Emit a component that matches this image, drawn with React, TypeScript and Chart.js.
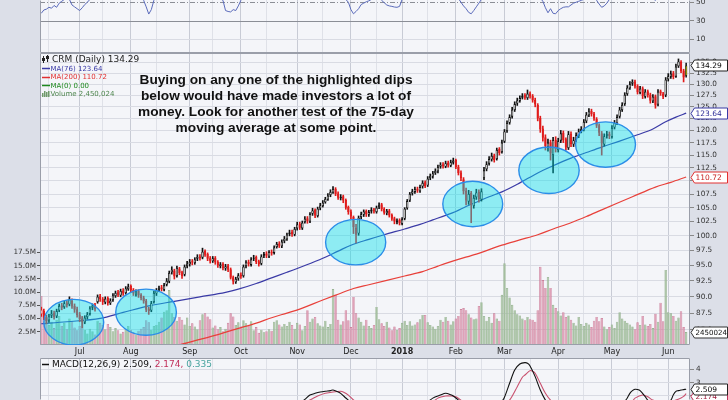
import React, { useEffect, useRef } from 'react';
import { Chart, registerables } from 'chart.js';

Chart.register(...registerables);

// ---------------- data ----------------
const monthIdx = [15, 35, 58, 78, 100, 121, 141, 162, 181, 202, 223, 245];
const monthLabels = ['Jul', 'Aug', 'Sep', 'Oct', 'Nov', 'Dec', '2018', 'Feb', 'Mar', 'Apr', 'May', 'Jun'];
const midMonthIdx = [3, 24, 45, 67, 88, 110, 131, 151, 172, 191, 212, 233];

const priorClose = 88.6;

const opens = [
  87.3,87.8,86.9,86.4,87.1,87.5,87.0,87.9,88.7,88.4,
  89.1,88.8,89.4,88.6,88.1,87.3,86.7,86.1,86.9,87.4,
  88.3,88.7,89.2,90.1,89.7,89.1,89.8,89.0,89.5,90.1,
  90.7,90.2,91.0,90.6,91.2,91.7,91.1,90.4,90.9,90.3,
  89.9,89.4,88.2,87.9,89.2,90.5,91.1,91.5,91.1,91.9,
  92.4,93.9,94.2,93.3,94.5,93.9,93.5,94.9,95.2,95.7,
  95.4,96.1,96.5,96.3,97.4,96.9,96.2,95.7,96.3,95.6,
  94.9,95.3,94.5,95.0,94.4,93.1,92.3,92.9,93.5,93.3,
  94.9,95.6,95.1,96.1,96.4,95.7,95.3,96.6,97.0,96.5,
  97.3,97.1,98.1,98.7,98.2,99.1,99.4,100.3,100.7,100.2,
  101.3,102.1,101.3,102.4,103.1,102.5,103.9,104.6,103.5,104.9,
  105.3,106.0,106.5,107.3,107.8,108.5,107.6,106.7,107.1,106.4,
  105.1,104.3,103.3,101.4,100.4,103.3,103.7,104.4,103.7,104.3,
  104.7,104.2,105.1,105.6,104.8,104.0,104.5,103.7,103.1,102.4,
  102.8,102.1,103.0,104.9,106.3,107.6,107.9,108.5,108.0,108.9,
  109.7,109.1,110.5,110.8,111.5,111.8,112.7,113.2,112.7,113.5,
  112.9,113.5,114.0,112.7,111.6,110.3,108.1,106.1,107.7,105.3,
  106.9,107.9,106.5,110.5,112.2,113.3,114.1,114.9,114.2,116.2,
  115.6,117.7,119.9,121.6,122.9,124.3,125.7,126.3,127.0,127.6,
  126.9,128.0,127.4,126.5,125.4,122.6,120.4,118.6,116.6,117.6,
  115.0,118.1,116.0,117.9,119.5,118.2,116.4,119.3,117.1,118.1,
  118.9,119.9,120.2,121.9,123.2,124.1,123.5,122.4,121.1,119.4,
  117.1,118.9,119.3,118.7,120.6,121.5,122.9,124.3,125.6,127.8,
  129.1,130.1,130.6,129.6,128.1,129.1,127.2,128.4,127.7,126.2,
  127.3,125.5,128.4,127.9,127.5,131.1,131.7,132.5,131.7,134.1,
  135.1,133.1,131.9,
];

const highs = [
  88.4,88.1,87.2,87.3,87.9,87.8,88.1,88.9,89.0,89.3,
  89.4,90.0,89.7,88.9,88.4,87.6,87.0,87.1,87.6,88.5,
  88.9,89.0,90.3,90.4,89.9,90.0,90.0,89.7,90.5,90.9,
  91.0,91.2,91.3,91.6,92.0,91.9,91.3,91.1,91.1,90.5,
  90.1,89.6,88.4,89.3,90.9,91.3,91.7,91.8,92.1,92.9,
  94.1,94.8,94.4,94.9,94.7,94.1,95.1,95.7,96.0,96.0,
  96.3,96.8,96.8,97.9,97.6,97.1,96.5,96.5,96.5,95.8,
  95.5,95.5,95.2,95.2,94.6,93.3,93.1,93.7,93.8,95.1,
  95.8,95.9,96.3,96.7,96.6,95.9,96.8,97.2,97.3,97.5,
  97.6,98.3,98.9,99.0,99.3,99.9,100.5,101.0,101.0,101.5,
  102.4,102.4,102.6,103.4,103.4,104.1,104.9,104.8,105.1,105.8,
  106.3,106.9,107.6,108.3,108.9,108.7,107.9,107.4,107.3,106.6,
  105.3,104.6,103.5,102.0,103.5,104.2,104.6,104.6,104.5,105.0,
  104.9,105.3,105.9,105.8,105.0,104.7,104.7,103.9,103.3,103.0,
  103.0,103.2,105.0,106.5,107.8,108.4,108.8,108.8,109.2,110.0,
  110.0,110.8,111.3,111.8,112.3,113.0,113.5,113.5,113.8,113.8,
  114.0,114.4,114.2,113.0,111.9,110.6,108.6,108.2,108.0,107.3,
  108.4,108.3,108.5,112.6,113.7,114.7,115.4,115.2,116.4,116.5,
  118.0,120.2,122.0,123.3,124.9,126.1,126.9,127.4,127.9,127.9,
  128.7,128.3,127.7,126.9,125.7,123.0,120.9,119.1,118.2,118.0,
  118.6,118.7,118.4,120.0,119.9,118.5,119.8,119.7,118.6,119.5,
  120.3,120.8,122.3,123.8,124.6,124.5,123.8,122.7,121.4,119.8,
  119.3,119.8,119.7,121.0,122.1,123.3,124.9,125.9,128.1,129.7,
  130.6,131.0,130.9,129.9,129.5,129.4,128.8,128.7,128.0,127.7,
  127.6,128.8,128.7,128.2,131.5,132.4,133.0,132.9,134.6,135.8,
  135.4,133.4,134.8,
];

const lows = [
  87.0,86.5,85.9,86.1,86.8,86.6,86.8,87.7,88.0,88.2,
  88.4,88.6,88.2,87.6,86.9,86.2,85.3,85.9,86.6,87.2,
  88.0,87.8,89.0,89.3,88.8,88.9,88.7,88.8,89.3,89.9,
  90.0,90.0,90.2,90.4,91.0,90.7,90.2,90.1,89.9,89.5,
  89.0,87.7,87.3,87.7,89.0,90.2,90.8,90.9,90.9,91.7,
  92.2,93.6,92.8,93.1,93.5,92.9,93.3,94.6,94.9,95.1,
  95.2,95.8,95.9,96.1,96.5,95.8,95.4,95.5,95.2,94.7,
  94.6,94.3,94.2,94.0,92.8,92.0,92.1,92.6,92.9,93.1,
  94.6,94.9,94.9,95.8,95.3,94.9,95.1,96.3,96.3,96.3,
  96.7,96.9,97.9,98.0,98.0,98.8,99.2,100.0,99.9,100.0,
  101.0,101.1,101.1,102.2,102.2,102.3,103.6,103.2,103.3,104.6,
  105.1,105.8,106.3,107.0,107.6,107.2,106.5,106.4,105.9,104.7,
  103.8,103.0,100.4,98.8,100.1,103.0,103.4,103.4,103.4,104.0,
  104.0,104.0,104.8,104.4,103.8,103.7,103.3,102.7,102.1,102.1,
  101.9,101.9,102.8,104.7,106.1,107.3,107.6,107.8,107.8,108.6,
  108.7,108.9,110.2,110.5,111.2,111.5,112.4,112.4,112.5,112.6,
  112.7,113.2,112.3,111.1,110.0,107.5,105.5,105.6,102.3,104.9,
  106.5,106.0,106.2,110.2,111.9,113.0,113.8,113.6,114.0,115.0,
  115.4,117.5,119.6,121.3,122.6,124.0,125.3,126.0,126.7,126.6,
  126.6,126.9,126.0,125.0,122.0,119.6,117.8,116.0,115.8,114.0,
  111.5,115.6,115.6,117.5,117.5,116.0,116.1,116.7,116.7,117.7,
  118.5,119.5,119.9,121.6,122.9,123.0,122.1,120.6,118.9,115.0,
  116.8,118.4,118.3,118.4,120.3,121.2,122.6,124.0,125.3,127.5,
  128.8,129.7,129.1,127.8,127.8,126.8,126.9,127.1,125.8,125.9,
  124.7,125.2,127.5,126.8,127.2,130.7,131.3,131.2,131.5,133.8,
  132.6,130.5,131.6,
];

const closes = [
  88.0,86.8,86.3,87.0,87.4,86.9,87.8,88.6,88.3,89.0,
  88.7,89.6,88.5,88.0,87.2,86.6,86.2,86.8,87.3,88.2,
  88.6,88.1,90.0,89.6,89.2,89.7,89.0,89.4,90.2,90.6,
  90.3,90.9,90.5,91.3,91.6,91.0,90.5,90.8,90.2,89.8,
  89.3,88.0,87.8,89.0,90.6,91.0,91.4,91.2,91.8,92.5,
  93.8,94.3,93.2,94.6,93.8,93.3,94.8,95.3,95.6,95.5,
  96.0,96.4,96.2,97.3,96.8,96.1,95.8,96.2,95.5,95.0,
  95.2,94.6,94.9,94.3,93.0,92.4,92.8,93.4,93.2,94.8,
  95.5,95.2,96.0,96.3,95.6,95.2,96.5,96.9,96.6,97.2,
  97.0,98.0,98.6,98.3,99.0,99.5,100.2,100.6,100.3,101.2,
  102.0,101.4,102.3,103.0,102.6,103.8,104.5,103.6,104.8,105.4,
  105.9,106.6,107.2,107.9,108.4,107.5,106.8,107.0,106.3,105.0,
  104.2,103.4,101.5,100.2,103.2,103.8,104.3,103.8,104.2,104.6,
  104.3,105.0,105.5,104.7,104.1,104.4,103.6,103.0,102.5,102.7,
  102.2,102.9,104.8,106.2,107.5,108.0,108.4,108.1,108.8,109.6,
  109.0,110.4,110.9,111.4,111.9,112.6,113.1,112.8,113.4,113.0,
  113.6,113.9,112.6,111.5,110.5,108.0,106.3,107.5,105.5,106.8,
  107.8,106.6,108.0,112.0,113.2,114.2,114.8,114.0,116.0,115.4,
  117.5,119.8,121.5,122.8,124.4,125.6,126.4,126.9,127.4,127.0,
  127.9,127.3,126.4,125.5,122.5,120.2,118.5,116.8,117.5,115.3,
  118.0,116.2,117.8,119.4,118.0,116.5,119.2,117.2,118.0,119.0,
  119.8,120.3,121.8,123.3,124.0,123.4,122.5,121.0,119.5,117.3,
  118.8,119.2,118.8,120.5,121.6,122.8,124.4,125.4,127.6,129.2,
  130.0,130.5,129.5,128.2,129.0,127.3,128.3,127.6,126.3,127.2,
  125.3,128.3,127.9,127.2,131.0,131.8,132.4,131.6,134.0,135.2,
  133.0,131.5,134.29,
];

// volume in millions of shares
const volumes = [
  9.3,6.0,5.2,3.8,4.4,3.2,4.8,5.5,3.6,4.2,
  3.0,5.0,4.5,3.3,2.8,3.6,5.4,2.9,2.2,3.1,
  2.6,2.0,4.6,4.2,3.8,3.0,4.0,3.4,2.6,3.2,
  2.8,2.2,2.5,3.0,3.6,2.9,2.4,2.0,2.7,3.1,
  3.4,4.7,4.3,2.9,3.6,3.8,4.4,5.2,6.3,6.6,
  10.4,6.0,5.3,4.6,5.3,4.8,3.9,5.2,3.6,4.1,
  3.5,3.0,4.7,5.8,6.0,5.4,4.9,3.3,3.7,3.0,
  3.4,2.6,3.1,4.2,6.0,5.4,3.8,4.3,3.5,4.7,
  4.1,3.6,4.5,2.8,3.4,2.3,2.9,2.4,2.6,3.0,
  2.7,4.4,4.7,3.9,3.5,4.0,3.6,4.4,3.8,3.1,
  4.2,3.9,2.8,3.6,6.6,4.4,5.0,5.3,4.1,3.7,
  3.5,4.6,3.4,4.0,10.6,9.5,4.8,3.9,4.5,6.6,
  4.7,3.4,9.1,6.0,5.2,4.4,3.7,4.8,3.6,3.2,
  3.8,7.2,4.9,4.1,3.6,4.4,3.3,2.8,3.5,2.9,
  3.2,4.2,4.6,3.8,4.5,3.7,3.9,4.3,4.9,5.7,
  5.7,4.3,3.8,3.5,3.1,3.6,4.8,4.4,5.3,4.6,
  3.9,4.5,5.0,5.5,6.8,7.0,6.6,5.8,5.2,4.9,
  5.0,7.4,8.1,5.5,4.6,5.3,4.2,6.0,5.0,4.6,
  9.5,15.5,10.8,9.0,7.6,6.6,5.8,5.6,5.0,4.7,
  5.3,4.9,4.8,4.4,6.6,14.8,12.3,10.8,12.9,10.8,
  7.6,7.0,6.4,5.6,6.2,5.3,5.6,4.8,4.2,3.7,
  5.3,4.0,3.6,4.2,3.9,3.4,4.6,5.3,4.5,5.1,
  3.5,3.0,3.4,3.9,3.2,4.4,6.2,5.0,4.6,4.2,
  3.9,3.5,3.0,4.3,3.8,5.5,3.9,3.6,4.0,3.2,
  5.9,4.4,8.0,4.5,14.2,6.2,6.0,5.5,4.6,5.2,
  6.4,3.4,2.450024,
];

// [bar index, value]
const ma76 = [
  [0,85.9],[10,86.2],[23,86.7],[32,87.6],[42,88.6],[52,89.3],[62,90.0],[72,90.7],[77,91.2],[84,92.1],
  [90,93.0],[96,93.9],[103,95.0],[110,96.2],[116,97.4],[121,98.4],[128,99.4],[134,100.2],[142,101.2],
  [148,102.0],[153,102.8],[158,103.6],[162,104.3],[166,105.2],[170,106.0],[175,107.0],[180,107.9],
  [187,109.6],[194,111.5],[200,112.9],[207,114.4],[213,115.5],[219,116.6],[226,117.8],[233,119.1],
  [239,120.3],[244,121.8],[248,122.8],[252,123.64],
];
const ma200 = [
  [45,81.7],[53,82.7],[62,83.6],[70,84.4],[75,85.0],[84,86.0],[90,86.8],[96,87.5],[101,88.1],[110,89.5],
  [116,90.4],[122,91.3],[128,91.9],[135,92.6],[142,93.3],[149,94.0],[155,94.9],[162,95.9],[170,96.9],
  [180,98.4],[187,99.3],[194,100.2],[200,101.2],[207,102.3],[213,103.4],[219,104.6],[225,105.8],
  [231,107.0],[240,108.8],[246,109.7],[252,110.72],
];
const rsi = [
  [0,38],[1,41.6],[2,42.5],[3,44.5],[4,43.5],[5,46.5],[6,44.5],[7,49],[8,51],[9,53],[10,55],[11,53],
  [12,47],[13,45],[14,43],[15,41],[16,44],[17,47.5],[18,50],[19,53],[20,56],[22,62],[25,60],[28,63],
  [31,64],[34,66],[37,59],[39,55],[40,52],[41,45],[42,37.2],[43,42],[44,52],[45,56],[48,60],[50,66],
  [53,64],[56,66],[60,68],[63,70],[66,60],[69,56],[71,52],[72,41],[73,40],[74,39.5],[75,42],[76,41],
  [77,46],[78,52],[80,58],[83,60],[86,62],[90,64],[95,70],[100,72],[105,70],[110,72],[114,74],[116,62],
  [118,56],[119,53],[120,50],[121,42],[122,37.5],[123,40],[124,43],[125,47.5],[126,49],[127,50.5],
  [128,51.5],[129,53],[131,56],[132,55],[133,52],[134,49.5],[135,47],[136,46],[137,45.5],[138,44.8],
  [139,44.5],[140,45.5],[141,53],[143,62],[146,68],[150,66],[155,70],[160,71],[162,58],[163,54],
  [164,50],[165,46],[166,43],[167,39],[168,37.5],[169,41],[170,45],[171,49],[172,53],[175,64],[180,68],
  [185,76],[190,78],[192,68],[194,58],[196,51],[197,44],[198,38.6],[199,43],[200,38],[201,37.5],
  [202,41],[203,43],[204,44.5],[205,45],[206,45],[207,47],[208,49],[209,50],[210,51],[211,52],[212,53],
  [214,58],[216,55],[217,52],[218,48],[219,44.5],[220,46],[221,49],[222,53],[225,60],[230,68],[235,62],
  [240,52],[242,60],[245,66],[248,70],[252,68],
];
const macdLine = [
  [95,1.3],[100,1.45],[102,1.6],[103,1.75],[105,2.07],[107,2.2],[109,2.3],[111,2.36],[113,2.4],[114,2.45],
  [116,2.3],[117,2.2],[119,1.85],[121,1.5],[123,1.0],[126,0.7],[130,0.6],[135,0.5],[140,0.3],[145,0.8],
  [150,1.4],[153,1.84],[156,2.07],[158,2.2],[160,2.1],[161,2.0],[163,1.69],[166,1.0],[170,0.4],[174,0.6],
  [178,1.2],[180,1.6],[181,1.9],[183,2.95],[185,3.95],[187,4.4],[189,4.5],[190,4.45],[191,4.25],[193,3.45],
  [195,2.45],[197,1.69],[200,0.9],[205,0.3],[210,0.2],[215,0.6],[220,0.5],[225,1.0],[228,1.6],[229,1.85],
  [230,2.2],[231,2.4],[232,2.5],[233,2.48],[234,2.4],[236,1.95],[237,1.69],[240,1.3],[243,1.4],[246,1.69],
  [247,2.1],[248,2.35],[249,2.4],[250,2.45],[251,2.48],[252,2.509],
];
const macdSignal = [
  [100,1.1],[103,1.45],[104,1.6],[106,1.8],[108,2.0],[111,2.2],[114,2.3],[117,2.35],[118,2.3],[120,2.07],
  [122,1.7],[124,1.5],[127,1.1],[132,0.8],[138,0.5],[144,0.6],[150,1.1],[155,1.84],[158,2.0],[160,2.0],
  [162,1.94],[164,1.69],[168,1.2],[174,0.7],[180,1.2],[183,1.69],[186,2.7],[188,3.4],[189,3.57],[191,3.9],
  [192,3.85],[193,3.7],[195,2.95],[197,2.2],[199,1.69],[203,1.0],[210,0.5],[220,0.6],[228,1.2],[231,1.6],
  [232,1.84],[235,2.07],[237,1.94],[239,1.69],[243,1.5],[245,1.55],[248,1.69],[250,1.85],[251,1.97],[252,2.174],
];

const priceTicks = [85,87.5,90,92.5,95,97.5,100,102.5,105,107.5,110,112.5,115,117.5,120,122.5,125,127.5,130,132.5,135];
const volumeTicks = [2.5,5,7.5,10,12.5,15,17.5];
const rsiTicks = [10,30,50];
const macdTicks = [2,3,4];

// highlighted dips: bar index span and price span
const dipLeft = [1.0, 29.1, 111.1, 156.9, 186.6, 208.8];
const dipRight = [24.4, 52.8, 134.6, 180.3, 210.2, 232.2];
const dipTop = [89.6, 91.2, 102.9, 109.9, 116.6, 121.8];
const dipBottom = [82.8, 84.2, 95.1, 101.6, 107.6, 112.6];

const noteLines = [
  'Buying on any one of the highlighted dips',
  'below would have made investors a lot of',
  'money. Look for another test of the 75-day',
  'moving average at some point.',
];

// ---------------- style ----------------
const FONT = '"DejaVu Sans", Verdana, sans-serif';
const OUTER_BG = '#dcdfe8';
const PANEL_BG = '#f4f5f9';
const GRID = '#d9dbe3';
const BORDER = '#9a9ea9';

const gridIdx = [...midMonthIdx, ...monthIdx].sort((a, b) => a - b);
const labelFor = (v: number) => {
  const k = monthIdx.indexOf(Math.round(v));
  return k >= 0 ? monthLabels[k] : '';
};

function makeX(showLabels: boolean): any {
  return {
    type: 'linear',
    axis: 'x',
    position: 'bottom',
    min: -0.5,
    max: 253.5,
    offset: false,
    bounds: 'data',
    afterBuildTicks: (s: any) => {
      s.ticks = gridIdx.map((v) => ({ value: v }));
    },
    afterFit: (s: any) => {
      s.height = showLabels ? 13 : 0;
      s.paddingLeft = 0;
      s.paddingRight = 0;
    },
    grid: {
      color: (c: any) => (c.tick && monthIdx.includes(c.tick.value) ? '#c8cbd5' : '#dfe1e8'),
      drawTicks: false,
      offset: false,
    },
    border: { display: false },
    ticks: {
      display: showLabels,
      autoSkip: false,
      maxRotation: 0,
      minRotation: 0,
      padding: 2,
      color: '#222',
      font: (c: any) => ({
        family: FONT,
        size: 8,
        weight: c.tick && labelFor(c.tick.value) === '2018' ? 'bold' : 'normal',
      }),
      callback: (v: any) => labelFor(Number(v)),
    },
  };
}

function panelPlugin(sides: string) {
  return {
    id: 'panel' + sides,
    beforeDraw(chart: any) {
      const { ctx, chartArea: a } = chart;
      ctx.save();
      ctx.fillStyle = PANEL_BG;
      ctx.fillRect(a.left, a.top, a.right - a.left, a.bottom - a.top);
      ctx.restore();
    },
    afterDatasetsDraw(chart: any) {
      const { ctx, chartArea: a } = chart;
      ctx.save();
      ctx.strokeStyle = BORDER;
      ctx.lineWidth = 1;
      ctx.beginPath();
      const l = Math.round(a.left) + 0.5, r = Math.round(a.right) - 0.5;
      const t = Math.round(a.top) + 0.5, b = Math.round(a.bottom) - 0.5;
      if (sides.includes('t')) { ctx.moveTo(l, t); ctx.lineTo(r, t); }
      if (sides.includes('b')) { ctx.moveTo(l, b); ctx.lineTo(r, b); }
      if (sides.includes('l')) { ctx.moveTo(l, t); ctx.lineTo(l, b); }
      if (sides.includes('r')) { ctx.moveTo(r, t); ctx.lineTo(r, b); }
      ctx.stroke();
      ctx.restore();
    },
  };
}

function drawTag(ctx: any, x: number, y: number, text: string, stroke: string, color: string) {
  const h = 11;
  const yy = Math.round(y) + 0.5;
  const x0 = Math.round(x) + 0.5;
  ctx.save();
  ctx.beginPath();
  ctx.moveTo(x0 + 0.5, yy);
  ctx.lineTo(x0 + 4, yy - h / 2);
  ctx.lineTo(727.5, yy - h / 2);
  ctx.lineTo(727.5, yy + h / 2);
  ctx.lineTo(x0 + 4, yy + h / 2);
  ctx.closePath();
  ctx.fillStyle = '#ffffff';
  ctx.fill();
  ctx.strokeStyle = stroke;
  ctx.lineWidth = 1;
  ctx.stroke();
  ctx.fillStyle = color;
  ctx.font = `7.5px ${FONT}`;
  ctx.textAlign = 'left';
  ctx.textBaseline = 'middle';
  const avail = 727 - (x0 + 5);
  const w = ctx.measureText(text).width;
  if (w > avail) ctx.font = `${(7.5 * avail) / w}px ${FONT}`;
  ctx.fillText(text, x0 + 5, yy + 0.5);
  ctx.restore();
}

export default function App() {
  const rsiRef = useRef<HTMLCanvasElement>(null);
  const mainRef = useRef<HTMLCanvasElement>(null);
  const macdRef = useRef<HTMLCanvasElement>(null);

  useEffect(() => {
    Chart.defaults.font.family = FONT;
    const last = closes.length - 1;
    const idx = closes.map((_, i) => i);
    const isUp = idx.map((i) => closes[i] >= (i === 0 ? priorClose : closes[i - 1]));
    const candleColor = idx.map((i) => (i === last ? '#222222' : isUp[i] ? '#111111' : '#e01b1b'));
    const bodyFill = idx.map((i) =>
      i === last ? '#f2f200' : closes[i] > opens[i] ? '#ffffff' : candleColor[i]
    );
    const ma76Last = ma76[ma76.length - 1][1];
    const ma200Last = ma200[ma200.length - 1][1];
    const macdLast = macdLine[macdLine.length - 1][1];
    const sigLast = macdSignal[macdSignal.length - 1][1];

    // ---------- RSI panel ----------
    const rsiGuides = {
      id: 'rsiGuides',
      beforeDatasetsDraw(chart: any) {
        const { ctx, chartArea: a, scales } = chart;
        const y = scales.y;
        ctx.save();
        ctx.strokeStyle = '#8b8e96';
        ctx.lineWidth = 1;
        const y30 = Math.round(y.getPixelForValue(30)) + 0.5;
        ctx.beginPath(); ctx.moveTo(a.left, y30); ctx.lineTo(a.right, y30); ctx.stroke();
        const y50 = Math.round(y.getPixelForValue(50)) + 0.5;
        ctx.setLineDash([5, 2, 1, 2]);
        ctx.beginPath(); ctx.moveTo(a.left, y50); ctx.lineTo(a.right, y50); ctx.stroke();
        ctx.restore();
      },
    };

    const rsiChart = new Chart(rsiRef.current as HTMLCanvasElement, {
      type: 'line',
      data: {
        datasets: [
          {
            data: rsi.map(([x, y]) => ({ x, y })),
            borderColor: '#5b6bbb',
            borderWidth: 1,
            pointRadius: 0,
            tension: 0,
          } as any,
        ],
      },
      options: {
        animation: false,
        responsive: false,
        devicePixelRatio: 1,
        events: [],
        layout: { padding: { left: 40, right: 0, top: 0, bottom: 0 } },
        plugins: { legend: { display: false }, tooltip: { enabled: false } },
        scales: {
          x: makeX(false),
          y: {
            type: 'linear',
            position: 'right',
            min: -4.9,
            max: 52.4,
            bounds: 'data',
            afterBuildTicks: (s: any) => { s.ticks = rsiTicks.map((v) => ({ value: v })); },
            afterFit: (s: any) => { s.width = 38; s.paddingTop = 0; s.paddingBottom = 0; },
            grid: {
              color: (c: any) => (c.tick && c.tick.value === 10 ? GRID : 'rgba(0,0,0,0)'),
              tickLength: 4,
              tickColor: '#888',
            },
            border: { display: false },
            ticks: { autoSkip: false, padding: 2, color: '#333', font: { family: FONT, size: 7.3 }, callback: (v: any) => String(v) },
          } as any,
        },
      } as any,
      plugins: [panelPlugin('lrb'), rsiGuides],
    });

    // ---------- main price / volume panel ----------
    const dipPlugin = {
      id: 'dips',
      afterDatasetsDraw(chart: any) {
        const { ctx, chartArea: a } = chart;
        const xs = chart.scales.x, ps = chart.scales.price;
        ctx.save();
        ctx.beginPath();
        ctx.rect(a.left, a.top, a.right - a.left, a.bottom - a.top);
        ctx.clip();
        dipLeft.forEach((l, k) => {
          const x1 = xs.getPixelForValue(l), x2 = xs.getPixelForValue(dipRight[k]);
          const y1 = ps.getPixelForValue(dipTop[k]), y2 = ps.getPixelForValue(dipBottom[k]);
          ctx.beginPath();
          ctx.ellipse((x1 + x2) / 2, (y1 + y2) / 2, (x2 - x1) / 2, (y2 - y1) / 2, 0, 0, Math.PI * 2);
          ctx.fillStyle = 'rgba(0, 224, 236, 0.42)';
          ctx.fill();
          ctx.strokeStyle = '#2b8de8';
          ctx.lineWidth = 1.4;
          ctx.stroke();
        });
        ctx.restore();
      },
    };

    const mainOverlay = {
      id: 'mainOverlay',
      afterDraw(chart: any) {
        const { ctx, chartArea: a } = chart;
        const ps = chart.scales.price, vs = chart.scales.vol;
        ctx.save();
        // note text
        ctx.fillStyle = '#111';
        ctx.font = 'bold 13.7px "Liberation Sans", Arial, sans-serif';
        ctx.textAlign = 'center';
        ctx.textBaseline = 'middle';
        noteLines.forEach((t, k) => ctx.fillText(t, 276, a.top + 27.7 + 16 * k));

        // legend
        const lx = a.left;
        ctx.textAlign = 'left';
        ctx.fillStyle = '#222';
        ctx.fillRect(lx + 3, a.top + 3, 1, 7);
        ctx.fillRect(lx + 2, a.top + 5, 3, 3);
        ctx.fillRect(lx + 7, a.top + 2, 1, 7);
        ctx.fillRect(lx + 6, a.top + 3, 3, 3);
        ctx.font = `9px ${FONT}`;
        ctx.fillStyle = '#222';
        ctx.fillText(`CRM (Daily) ${closes[last].toFixed(2)}`, lx + 12, a.top + 6.8);

        const rows: any[] = [
          ['line', '#3a3aa6', `MA(76) ${ma76Last.toFixed(2)}`],
          ['line', '#e23030', `MA(200) ${ma200Last.toFixed(2)}`],
          ['line', '#1f8a1f', 'MA(0) 0.00'],
          ['vol', '#4f874f', `Volume ${Math.round(volumes[last] * 1e6).toLocaleString('en-US')}`],
        ];
        ctx.font = `7px ${FONT}`;
        rows.forEach(([kind, color, text], k) => {
          const y = a.top + 15.2 + 8.6 * k;
          if (kind === 'line') {
            ctx.strokeStyle = color;
            ctx.lineWidth = 1.5;
            ctx.beginPath();
            ctx.moveTo(lx + 2, Math.round(y) + 0.5);
            ctx.lineTo(lx + 10, Math.round(y) + 0.5);
            ctx.stroke();
          } else {
            ctx.fillStyle = '#6f9a6a';
            ctx.fillRect(lx + 2, y - 1, 1.5, 4);
            ctx.fillRect(lx + 4, y - 3, 1.5, 6);
            ctx.fillRect(lx + 6, y - 2, 1.5, 5);
            ctx.fillRect(lx + 8, y - 3, 1.5, 6);
          }
          ctx.fillStyle = color;
          ctx.fillText(text, lx + 10.5, y + 0.5);
        });

        // value tags on right axis
        drawTag(ctx, a.right, vs.getPixelForValue(volumes[last]), String(Math.round(volumes[last] * 1e6)), '#333', '#111');
        drawTag(ctx, a.right, ps.getPixelForValue(ma200Last), ma200Last.toFixed(2), '#e23030', '#c81e1e');
        drawTag(ctx, a.right, ps.getPixelForValue(ma76Last), ma76Last.toFixed(2), '#3a3aa6', '#2a2a96');
        drawTag(ctx, a.right, ps.getPixelForValue(closes[last]), closes[last].toFixed(2), '#222', '#000');
        ctx.restore();
      },
    };

    const mainChart = new Chart(mainRef.current as HTMLCanvasElement, {
      type: 'bar',
      data: {
        datasets: [
          {
            type: 'bar',
            data: idx.map((i) => ({ x: i, y: volumes[i] })),
            xAxisID: 'x',
            yAxisID: 'vol',
            backgroundColor: idx.map((i) => (isUp[i] ? 'rgba(158,188,151,0.88)' : 'rgba(220,150,174,0.88)')),
            borderColor: idx.map((i) => (isUp[i] ? '#89a983' : '#c7708f')),
            borderWidth: 0.6,
            borderSkipped: 'start',
            barPercentage: 0.95,
            categoryPercentage: 1,
            grouped: false,
            order: 10,
          },
          {
            type: 'line',
            data: ma200.map(([x, y]) => ({ x, y })),
            xAxisID: 'x',
            yAxisID: 'price',
            borderColor: '#e8403a',
            borderWidth: 1.2,
            pointRadius: 0,
            cubicInterpolationMode: 'monotone',
            order: 6,
          },
          {
            type: 'line',
            data: ma76.map(([x, y]) => ({ x, y })),
            xAxisID: 'x',
            yAxisID: 'price',
            borderColor: '#3a3aa6',
            borderWidth: 1.2,
            pointRadius: 0,
            cubicInterpolationMode: 'monotone',
            order: 5,
          },
          {
            type: 'bar',
            data: idx.map((i) => ({ x: i, y: [lows[i], highs[i]] })),
            xAxisID: 'x',
            yAxisID: 'price',
            backgroundColor: candleColor,
            barThickness: 1,
            grouped: false,
            order: 3,
          },
          {
            type: 'bar',
            data: idx.map((i) => ({ x: i, y: [Math.min(opens[i], closes[i]), Math.max(opens[i], closes[i])] })),
            xAxisID: 'x',
            yAxisID: 'price',
            backgroundColor: bodyFill,
            borderColor: candleColor,
            borderWidth: 0.8,
            borderSkipped: false,
            barPercentage: 0.92,
            categoryPercentage: 1,
            minBarLength: 1,
            grouped: false,
            order: 2,
          },
        ] as any,
      },
      options: {
        animation: false,
        responsive: false,
        devicePixelRatio: 1,
        events: [],
        layout: { padding: 0 },
        plugins: { legend: { display: false }, tooltip: { enabled: false } },
        scales: {
          x: makeX(true),
          vol: {
            type: 'linear',
            axis: 'y',
            position: 'left',
            min: 0,
            max: 55.3,
            bounds: 'data',
            afterBuildTicks: (s: any) => { s.ticks = volumeTicks.map((v) => ({ value: v })); },
            afterFit: (s: any) => { s.width = 40; s.paddingTop = 0; s.paddingBottom = 0; },
            grid: { drawOnChartArea: false, drawTicks: true, tickLength: 3, tickColor: '#555' },
            border: { display: false },
            ticks: { autoSkip: false, padding: 1, color: '#333', font: { family: FONT, size: 7.3 }, callback: (v: any) => Number(v).toFixed(1) + 'M' },
          },
          price: {
            type: 'logarithmic',
            axis: 'y',
            position: 'right',
            min: 82.8,
            max: 137.2,
            bounds: 'data',
            beginAtZero: false,
            afterBuildTicks: (s: any) => { s.ticks = priceTicks.map((v) => ({ value: v })); },
            afterFit: (s: any) => { s.width = 38; s.paddingTop = 0; s.paddingBottom = 0; },
            grid: { color: GRID, drawTicks: true, tickLength: 4, tickColor: '#888' },
            border: { display: false },
            ticks: { autoSkip: false, padding: 2, color: '#333', font: { family: FONT, size: 7.3 }, callback: (v: any) => Number(v).toFixed(1) },
          },
        },
      } as any,
      plugins: [panelPlugin('tlrb'), dipPlugin, mainOverlay],
    });

    // ---------- MACD panel ----------
    const macdOverlay = {
      id: 'macdOverlay',
      afterDraw(chart: any) {
        const { ctx, chartArea: a } = chart;
        const ys = chart.scales.y;
        ctx.save();
        const y = a.top + 6;
        ctx.strokeStyle = '#111';
        ctx.lineWidth = 1.5;
        ctx.beginPath();
        ctx.moveTo(a.left + 2, Math.round(y) + 0.5);
        ctx.lineTo(a.left + 9, Math.round(y) + 0.5);
        ctx.stroke();
        ctx.font = `9px ${FONT}`;
        ctx.textAlign = 'left';
        ctx.textBaseline = 'middle';
        let x = a.left + 12;
        const parts: any[] = [
          [`MACD(12,26,9) ${macdLast.toFixed(3)}, `, '#111'],
          [`${sigLast.toFixed(3)}, `, '#c0305a'],
          [`${(macdLast - sigLast).toFixed(3)}`, '#46a39e'],
        ];
        parts.forEach(([t, c]) => {
          ctx.fillStyle = c;
          ctx.fillText(t, x, y + 0.5);
          x += ctx.measureText(t).width;
        });
        const y1 = ys.getPixelForValue(macdLast);
        let y2 = ys.getPixelForValue(sigLast);
        if (y2 - y1 < 7) y2 = y1 + 7;
        drawTag(ctx, a.right, y2, sigLast.toFixed(3), '#c0305a', '#a02040');
        drawTag(ctx, a.right, y1, macdLast.toFixed(3), '#222', '#000');
        ctx.restore();
      },
    };

    const macdChart = new Chart(macdRef.current as HTMLCanvasElement, {
      type: 'line',
      data: {
        datasets: [
          {
            data: macdSignal.map(([x, y]) => ({ x, y })),
            borderColor: '#c8506e',
            borderWidth: 1.1,
            pointRadius: 0,
            tension: 0.3,
            order: 2,
          },
          {
            data: macdLine.map(([x, y]) => ({ x, y })),
            borderColor: '#111111',
            borderWidth: 1.1,
            pointRadius: 0,
            tension: 0.3,
            order: 1,
          },
        ] as any,
      },
      options: {
        animation: false,
        responsive: false,
        devicePixelRatio: 1,
        events: [],
        layout: { padding: { left: 40, right: 0, top: 0, bottom: 0 } },
        plugins: { legend: { display: false }, tooltip: { enabled: false } },
        scales: {
          x: makeX(false),
          y: {
            type: 'linear',
            position: 'right',
            min: 1.7,
            max: 4.846,
            bounds: 'data',
            afterBuildTicks: (s: any) => { s.ticks = macdTicks.map((v) => ({ value: v })); },
            afterFit: (s: any) => { s.width = 38; s.paddingTop = 0; s.paddingBottom = 0; },
            grid: { color: GRID, tickLength: 4, tickColor: '#888' },
            border: { display: false },
            ticks: { autoSkip: false, padding: 2, color: '#333', font: { family: FONT, size: 7.3 }, callback: (v: any) => String(v) },
          },
        },
      } as any,
      plugins: [panelPlugin('tlr'), macdOverlay],
    });

    return () => {
      rsiChart.destroy();
      mainChart.destroy();
      macdChart.destroy();
    };
  }, []);

  return (
    <div
      style={{
        position: 'absolute',
        left: 0,
        top: 0,
        width: 728,
        height: 400,
        background: OUTER_BG,
        overflow: 'hidden',
      }}
    >
      <canvas ref={rsiRef} width={728} height={53} style={{ position: 'absolute', left: 0, top: 0 }} />
      <canvas ref={mainRef} width={728} height={305} style={{ position: 'absolute', left: 0, top: 53 }} />
      <canvas ref={macdRef} width={728} height={42} style={{ position: 'absolute', left: 0, top: 358 }} />
    </div>
  );
}
